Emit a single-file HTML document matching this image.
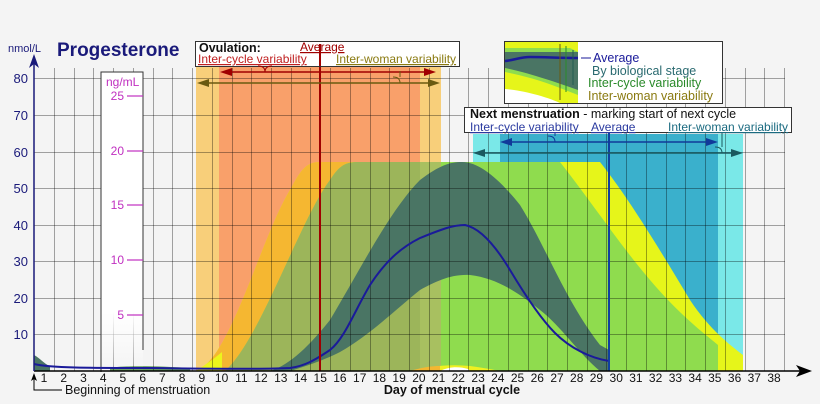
<!DOCTYPE html>
<html><head><meta charset="utf-8"><style>
html,body{margin:0;padding:0;background:#f4f4f4;}
svg{display:block;font-family:"Liberation Sans",sans-serif;}
</style></head><body>
<svg width="820" height="404" viewBox="0 0 820 404" xmlns="http://www.w3.org/2000/svg">
<defs>
<clipPath id="env"><path d="M196,371 C230,360 260,240 290,190 C300,172 305,162 320,162 L600,162 C630,200 660,250 690,300 C710,330 730,345 743,355 L743,371 Z"/></clipPath>
<clipPath id="grn"><path d="M225,371 C260,340 300,220 330,180 C340,165 345,162 360,162 L560,162 C590,200 620,245 650,280 C680,315 700,330 718,345 L718,371 Z"/></clipPath>
<linearGradient id="fade" x1="0" y1="0" x2="0" y2="1"><stop offset="0.8" stop-color="#fff"/><stop offset="1" stop-color="#fff" stop-opacity="0"/></linearGradient>
</defs>
<rect width="820" height="404" fill="#f4f4f4"/>
<rect x="196" y="66" width="245" height="305" fill="#f8cf7a"/>
<rect x="219" y="66" width="201" height="305" fill="#f9a06a"/>
<rect x="473" y="134" width="270" height="237" fill="#7ae8e8"/>
<rect x="500" y="134" width="218" height="237" fill="#3ab0cc"/>
<rect x="0" y="0" width="820" height="404" fill="#e6f51a" clip-path="url(#env)"/>
<g clip-path="url(#env)"><rect x="196" y="0" width="245" height="404" fill="#f5b731"/></g>
<rect x="0" y="0" width="820" height="404" fill="#8fdc4e" clip-path="url(#grn)"/>
<g clip-path="url(#grn)"><rect x="219" y="0" width="201" height="404" fill="#9cb55a"/><rect x="420" y="0" width="21" height="404" fill="#a8c060"/></g>
<path d="M270,371 C290,365 310,345 330,320 C360,270 390,210 420,180 C440,165 450,162 462,162 C480,162 500,180 520,205 C545,245 565,300 600,345 L609,350 L609,371 L600,371 C580,355 560,325 540,310 C515,290 495,278 470,275 C450,274 435,282 420,290 C395,310 370,335 340,352 C320,362 300,368 290,371 Z" fill="#4a7564"/>
<path d="M34,355 C40,358 44,364 50,366 L50,371 L34,371 Z" fill="#4a7564"/>
<path d="M110,368 C125,365 160,366 190,368 L190,371 L110,371Z" fill="#6aa060"/>
<path d="M410,371 C430,366 450,364 470,366 C485,368 495,370 500,371Z" fill="#f0f020"/>
<path d="M440,371 C448,367 458,366 468,369 L470,371Z" fill="#fff"/>
<path d="M410,371 C420,368 430,366 440,366 L440,371Z" fill="#f5b731"/>
<path d="M196,371 C205,365 215,358 222,352 L222,371Z" fill="#ecf51c"/>
<g stroke="#000" stroke-opacity="0.35" stroke-width="1">
<line x1="34" y1="334.5" x2="785" y2="334.5"/><line x1="34" y1="298.5" x2="785" y2="298.5"/>
<line x1="34" y1="261.5" x2="785" y2="261.5"/><line x1="34" y1="225.5" x2="785" y2="225.5"/>
<line x1="34" y1="188.5" x2="785" y2="188.5"/><line x1="34" y1="152.5" x2="785" y2="152.5"/>
<line x1="34" y1="115.5" x2="785" y2="115.5"/><line x1="34" y1="78.5" x2="785" y2="78.5"/>
</g>
<g stroke="#000" stroke-opacity="0.35" stroke-width="1" id="vg"></g>
<!-- ng/mL box over grid -->
<rect x="101" y="72" width="42" height="300" fill="url(#fade)"/>
<path d="M101,372 L101,72 L143,72 L143,350" fill="none" stroke="#333" stroke-width="1"/>
<path d="M34,364 C50,368 90,368 150,368 C220,369 270,369 290,368 C305,366 315,360 330,350 C345,338 355,310 370,285 C385,262 400,248 420,238 C440,230 452,225 465,225 C480,228 495,245 510,270 C525,295 540,318 555,333 C570,348 590,358 609,361" fill="none" stroke="#1a1a9a" stroke-width="2"/>
<line x1="320" y1="44" x2="320" y2="371" stroke="#a00000" stroke-width="2"/>
<line x1="609" y1="127" x2="609" y2="371" stroke="#1040a0" stroke-width="2"/>
<line x1="34" y1="371" x2="800" y2="371" stroke="#000" stroke-width="1.5"/>
<path d="M812,371 L796,365 L800,371 L796,377 Z" fill="#000"/>
<line x1="34" y1="371" x2="34" y2="62" stroke="#1a1a7a" stroke-width="1.5"/>
<path d="M34,54 L29,68 L34,64 L39,68 Z" fill="#1a1a7a"/>
<g font-size="13" fill="#1a1a7a" text-anchor="end">
<text x="28" y="339">10</text><text x="28" y="303">20</text><text x="28" y="266">30</text><text x="28" y="230">40</text>
<text x="28" y="193">50</text><text x="28" y="157">60</text><text x="28" y="120">70</text><text x="28" y="83">80</text>
</g>
<text x="8" y="52" font-size="11" fill="#1a1a7a">nmol/L</text>
<text x="57" y="56" font-size="19" font-weight="bold" fill="#1a1a7a">Progesterone</text>
<g font-size="12" fill="#c030c0">
<text x="106" y="86">ng/mL</text>
<text x="124" y="100" text-anchor="end">25</text><text x="124" y="155" text-anchor="end">20</text>
<text x="124" y="209" text-anchor="end">15</text><text x="124" y="264" text-anchor="end">10</text>
<text x="124" y="319" text-anchor="end">5</text>
</g>
<g stroke="#c030c0" stroke-width="1.2">
<line x1="127" y1="96" x2="143" y2="96"/><line x1="127" y1="151" x2="143" y2="151"/>
<line x1="127" y1="205" x2="143" y2="205"/><line x1="127" y1="260" x2="143" y2="260"/>
<line x1="127" y1="315" x2="143" y2="315"/>
</g>
<g font-size="12" fill="#111" text-anchor="middle" id="xl"></g>
<path d="M34,373 L31,381 L34,379 L37,381 Z" fill="#000"/>
<path d="M34,378 L34,390 L62,390" fill="none" stroke="#000"/>
<text x="65" y="394" font-size="12.5" fill="#111">Beginning of menstruation</text>
<text x="452" y="394" font-size="12.5" font-weight="bold" fill="#111" text-anchor="middle">Day of menstrual cycle</text>
<rect x="195.5" y="41.5" width="264" height="25" fill="#fff" stroke="#333"/>
<text x="199" y="52" font-size="12.5" font-weight="bold" fill="#111">Ovulation:</text>
<text x="300" y="51" font-size="12" fill="#a00000" text-decoration="underline">Average</text>
<text x="198" y="63" font-size="12" fill="#c02020" text-decoration="underline">Inter-cycle variability</text>
<text x="336" y="63" font-size="12" fill="#8a7a10" text-decoration="underline">Inter-woman variability</text>
<line x1="320" y1="44" x2="320" y2="66" stroke="#a00000" stroke-width="2"/>
<line x1="226" y1="72" x2="430" y2="72" stroke="#a00000" stroke-width="1.5"/>
<path d="M220,72 L232,68 L232,76Z M436,72 L424,68 L424,76Z" fill="#a00000"/>
<path d="M258,66 Q265,66 265,72 Q265,66 272,66" fill="none" stroke="#a00000"/>
<line x1="202" y1="83" x2="434" y2="83" stroke="#6a5a10" stroke-width="1.5"/>
<path d="M197,83 L209,79 L209,87Z M440,83 L428,79 L428,87Z" fill="#6a5a10"/>
<path d="M393,77 Q400,77 400,83 M400,77 L400,71" fill="none" stroke="#6a5a10"/>
<rect x="504.5" y="41.5" width="218" height="62" fill="#fff" stroke="#333"/>
<rect x="505" y="42" width="73" height="61" fill="#e6f51a"/>
<path d="M505,48 L570,48 L578,52 L578,95 L560,88 C540,80 520,75 505,72Z" fill="#8fdc4e"/>
<path d="M505,52 L578,52 L578,90 C550,80 525,72 505,68Z" fill="#4a7564"/>
<path d="M505,89 L505,103 L560,103 C545,96 520,90 505,89Z" fill="#fff"/>
<path d="M505,61 C515,60 520,57 530,57 C545,57 560,58 578,58" fill="none" stroke="#1a1a9a" stroke-width="2.5"/>
<line x1="560" y1="44" x2="560" y2="100" stroke="#6a5a10"/><line x1="566" y1="46" x2="566" y2="92" stroke="#2a8a2a"/><line x1="573" y1="50" x2="573" y2="85" stroke="#235a50"/>
<text x="593" y="62" font-size="12.5" fill="#1a1a9a">Average</text>
<line x1="581" y1="58" x2="591" y2="58" stroke="#1a1a9a"/>
<text x="592" y="75" font-size="12.5" fill="#2a6a70">By biological stage</text>
<text x="588" y="87" font-size="12.5" fill="#2a8a2a">Inter-cycle variability</text>
<text x="588" y="100" font-size="12.5" fill="#8a7a10">Inter-woman variability</text>
<rect x="464.5" y="107.5" width="327" height="25" fill="#fff" stroke="#333"/>
<text x="470" y="118" font-size="12.5" fill="#111"><tspan font-weight="bold">Next menstruation</tspan> - marking start of next cycle</text>
<text x="470" y="131" font-size="12" fill="#2a3aa0" text-decoration="underline">Inter-cycle variability</text>
<text x="591" y="131" font-size="12" fill="#2a3aa0" text-decoration="underline">Average</text>
<text x="668" y="131" font-size="12" fill="#1a6a80" text-decoration="underline">Inter-woman variability</text>
<line x1="506" y1="142" x2="712" y2="142" stroke="#103a9a" stroke-width="1.5"/>
<path d="M500,142 L512,138 L512,146Z M718,142 L706,138 L706,146Z" fill="#103a9a"/>
<path d="M548,136 Q555,136 555,142 M555,136 L555,133" fill="none" stroke="#103a9a"/>
<line x1="479" y1="153" x2="737" y2="153" stroke="#1a5a60" stroke-width="1.5"/>
<path d="M473,153 L485,149 L485,157Z M743,153 L731,149 L731,157Z" fill="#1a5a60"/>
<path d="M715,147 Q722,147 722,153 M722,147 L722,133" fill="none" stroke="#1a5a60"/>
<script>
var vg=document.getElementById('vg'),xl=document.getElementById('xl'),ns='http://www.w3.org/2000/svg';
for(var k=0;k<=37;k++){var x=Math.round(54+19.73*k)+0.5;var l=document.createElementNS(ns,'line');l.setAttribute('x1',x);l.setAttribute('x2',x);l.setAttribute('y1',68);l.setAttribute('y2',371);vg.appendChild(l);}
for(var d=1;d<=38;d++){var t=document.createElementNS(ns,'text');t.setAttribute('x',(44+19.73*(d-1)).toFixed(1));t.setAttribute('y',382);t.textContent=d;xl.appendChild(t);}
</script>
</svg>
</body></html>
